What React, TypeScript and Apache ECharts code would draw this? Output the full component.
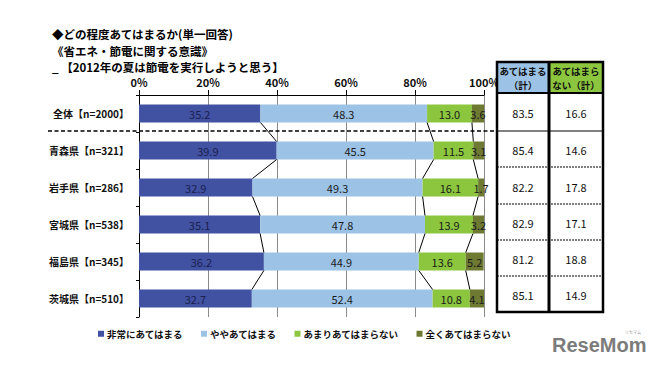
import React, { useEffect, useRef } from "react";
import * as echarts from "echarts";

const categories = [
  "全体【n=2000】",
  "青森県【n=321】",
  "岩手県【n=286】",
  "宮城県【n=538】",
  "福島県【n=345】",
  "茨城県【n=510】",
];
const seriesNames = ["非常にあてはまる", "ややあてはまる", "あまりあてはまらない", "全くあてはまらない"];
const veryApply = [35.2, 39.9, 32.9, 35.1, 36.2, 32.7];
const somewhatApply = [48.3, 45.5, 49.3, 47.8, 44.9, 52.4];
const notMuch = [13.0, 11.5, 16.1, 13.9, 13.6, 10.8];
const notAtAll = [3.6, 3.1, 1.7, 3.2, 5.2, 4.1];
const applyTotal = [83.5, 85.4, 82.2, 82.9, 81.2, 85.1];
const notApplyTotal = [16.6, 14.6, 17.8, 17.1, 18.8, 14.9];
const xMin = 0;
const xMax = 100;
const xInterval = 20;

const titleLines = [
  "◆どの程度あてはまるか(単一回答)",
  "《省エネ・節電に関する意識》",
  "_ 【2012年の夏は節電を実行しようと思う】",
];
const tableHeaders = [
  ["あてはまる", "（計）"],
  ["あてはまら", "ない（計）"],
];

const colors = ["#4152A2", "#9CC3E6", "#8CC63F", "#6E7A32"];
const FONT = "'Noto Sans CJK JP', 'Noto Sans', sans-serif";
const BAR_H = 18;

// layout constants for the side table
const T_LEFT = 497;
const T_MID = 549;
const T_RIGHT = 603;
const T_TOP = 62;
const T_HEAD_BOTTOM = 93;
const T_ROWS = [93, 131, 167, 204, 240, 276, 312];

function buildTable(): any[] {
  const els: any[] = [];
  els.push({ type: "rect", shape: { x: T_LEFT, y: T_TOP, width: T_MID - T_LEFT, height: T_HEAD_BOTTOM - T_TOP }, style: { fill: "#9CC3E6" }, z: 100 });
  els.push({ type: "rect", shape: { x: T_MID, y: T_TOP, width: T_RIGHT - T_MID, height: T_HEAD_BOTTOM - T_TOP }, style: { fill: "#8CC63F" }, z: 100 });
  els.push({ type: "rect", shape: { x: T_LEFT, y: T_HEAD_BOTTOM, width: T_RIGHT - T_LEFT, height: T_ROWS[T_ROWS.length - 1] - T_HEAD_BOTTOM }, style: { fill: "#fff" }, z: 100 });
  const cx = [(T_LEFT + T_MID) / 2, (T_MID + T_RIGHT) / 2];
  tableHeaders.forEach((lines, k) => {
    lines.forEach((line, j) => {
      els.push({
        type: "text",
        x: cx[k],
        y: 71 + j * 14,
        z: 102,
        style: { text: line, fill: "#111", font: `bold 9.5px ${FONT}`, align: "center", verticalAlign: "middle" },
      });
    });
  });
  for (let i = 0; i < categories.length; i++) {
    const cy = (T_ROWS[i] + T_ROWS[i + 1]) / 2 + 1;
    [applyTotal[i], notApplyTotal[i]].forEach((v, k) => {
      els.push({
        type: "text",
        x: cx[k],
        y: cy,
        z: 102,
        style: { text: v.toFixed(1), fill: "#111", font: `11px ${FONT}`, align: "center", verticalAlign: "middle" },
      });
    });
    if (i > 0) {
      els.push({
        type: "line",
        z: 101,
        shape: { x1: T_LEFT, y1: T_ROWS[i], x2: T_RIGHT, y2: T_ROWS[i] },
        style: { stroke: "#000", lineWidth: 1, lineDash: i === 1 ? null : [2, 1] },
      });
    }
  }
  els.push({ type: "line", z: 103, shape: { x1: T_LEFT, y1: T_HEAD_BOTTOM, x2: T_RIGHT, y2: T_HEAD_BOTTOM }, style: { stroke: "#000", lineWidth: 2 } });
  els.push({ type: "line", z: 103, shape: { x1: T_MID, y1: T_TOP, x2: T_MID, y2: T_ROWS[T_ROWS.length - 1] }, style: { stroke: "#000", lineWidth: 3 } });
  els.push({
    type: "rect",
    z: 103,
    shape: { x: T_LEFT, y: T_TOP, width: T_RIGHT - T_LEFT, height: T_ROWS[T_ROWS.length - 1] - T_TOP },
    style: { fill: "none", stroke: "#000", lineWidth: 2.5 },
  });
  return els;
}

export default function App() {
  const ref = useRef<HTMLDivElement>(null);
  useEffect(() => {
    if (!ref.current) return;
    const chart = echarts.init(ref.current, null, { renderer: "svg" });
    const all = [veryApply, somewhatApply, notMuch, notAtAll];
    const cum1 = veryApply.map((v) => v);
    const cum2 = veryApply.map((v, i) => v + somewhatApply[i]);
    const cum3 = cum2.map((v, i) => v + notMuch[i]);
    const connectorData = categories.slice(0, -1).map((_, i) => [
      i,
      cum1[i],
      cum2[i],
      cum3[i],
      cum1[i + 1],
      cum2[i + 1],
      cum3[i + 1],
    ]);

    const graphic: any[] = [];
    titleLines.forEach((t, k) => {
      graphic.push({
        type: "text",
        x: 52,
        y: 34 + k * 16.5,
        z: 100,
        style: { text: t, fill: "#000", font: `bold 11.5px ${FONT}`, verticalAlign: "middle" },
      });
    });
    graphic.push({
      type: "line",
      z: 99,
      shape: { x1: 48, y1: 131, x2: T_LEFT, y2: 131 },
      style: { stroke: "#000", lineWidth: 1.6, lineDash: [4, 2.5] },
    });
    graphic.push(...buildTable());
    graphic.push({
      type: "text",
      x: 552,
      y: 345,
      z: 100,
      style: { text: "ReseMom", fill: "#7b7b7b", font: `bold 20px 'Liberation Sans', Arial, sans-serif`, verticalAlign: "middle" },
    });
    graphic.push({
      type: "text",
      x: 625,
      y: 332,
      z: 100,
      style: { text: "リセマム", fill: "#999", font: `4px ${FONT}`, verticalAlign: "middle" },
    });

    chart.setOption({
      animation: false,
      backgroundColor: "#fff",
      textStyle: { fontFamily: FONT },
      grid: { left: 139, right: 179, top: 95, bottom: 55 },
      legend: {
        left: 98,
        top: 329,
        padding: 0,
        icon: "rect",
        itemWidth: 6,
        itemHeight: 6,
        itemGap: 18,
        textStyle: { fontSize: 9.5, fontWeight: "bold", color: "#111", fontFamily: FONT, padding: [0, 0, 0, -2] },
        data: seriesNames,
      },
      xAxis: {
        type: "value",
        position: "top",
        min: xMin,
        max: xMax,
        interval: xInterval,
        axisLine: { show: true, lineStyle: { color: "#000", width: 1 } },
        axisTick: { show: true, length: 5, lineStyle: { color: "#000" } },
        axisLabel: { formatter: "{value}%", fontSize: 11, fontWeight: "bold", color: "#111", margin: 8, fontFamily: FONT },
        splitLine: { show: true, lineStyle: { color: "#8a8a8a", width: 1 } },
      },
      yAxis: {
        type: "category",
        inverse: true,
        data: categories,
        axisLine: { show: true, lineStyle: { color: "#000", width: 1 } },
        axisTick: { show: true, length: 3, lineStyle: { color: "#000" } },
        axisLabel: { fontSize: 10, fontWeight: "bold", color: "#111", margin: 10, fontFamily: FONT },
      },
      series: [
        ...all.map((arr, k) => ({
          name: seriesNames[k],
          type: "bar",
          stack: "total",
          barWidth: BAR_H,
          data: arr,
          itemStyle: { color: colors[k] },
          label: {
            show: true,
            position: "inside",
            formatter: (p: any) => Number(p.value).toFixed(1),
            fontSize: 11,
            color: k === 0 ? "#1a2050" : "#1a1a1a",
            fontFamily: FONT,
          },
          z: 3,
        })),
        {
          type: "custom",
          name: "connectors",
          data: connectorData,
          encode: { x: [1, 2, 3, 4, 5, 6], y: 0 },
          z: 5,
          silent: true,
          renderItem: (params: any, api: any) => {
            const i = api.value(0);
            const children: any[] = [];
            for (let k = 0; k < 3; k++) {
              const a = api.coord([api.value(1 + k), i]);
              const b = api.coord([api.value(4 + k), i + 1]);
              children.push({
                type: "line",
                shape: { x1: a[0], y1: a[1] + BAR_H / 2, x2: b[0], y2: b[1] - BAR_H / 2 },
                style: { stroke: "#000", lineWidth: 1 },
              });
            }
            return { type: "group", children };
          },
        },
      ],
      graphic,
    });
    return () => chart.dispose();
  }, []);
  return (
    <div
      ref={ref}
      style={{ position: "fixed", left: 0, top: 0, width: 663, height: 372, background: "#fff" }}
    />
  );
}
